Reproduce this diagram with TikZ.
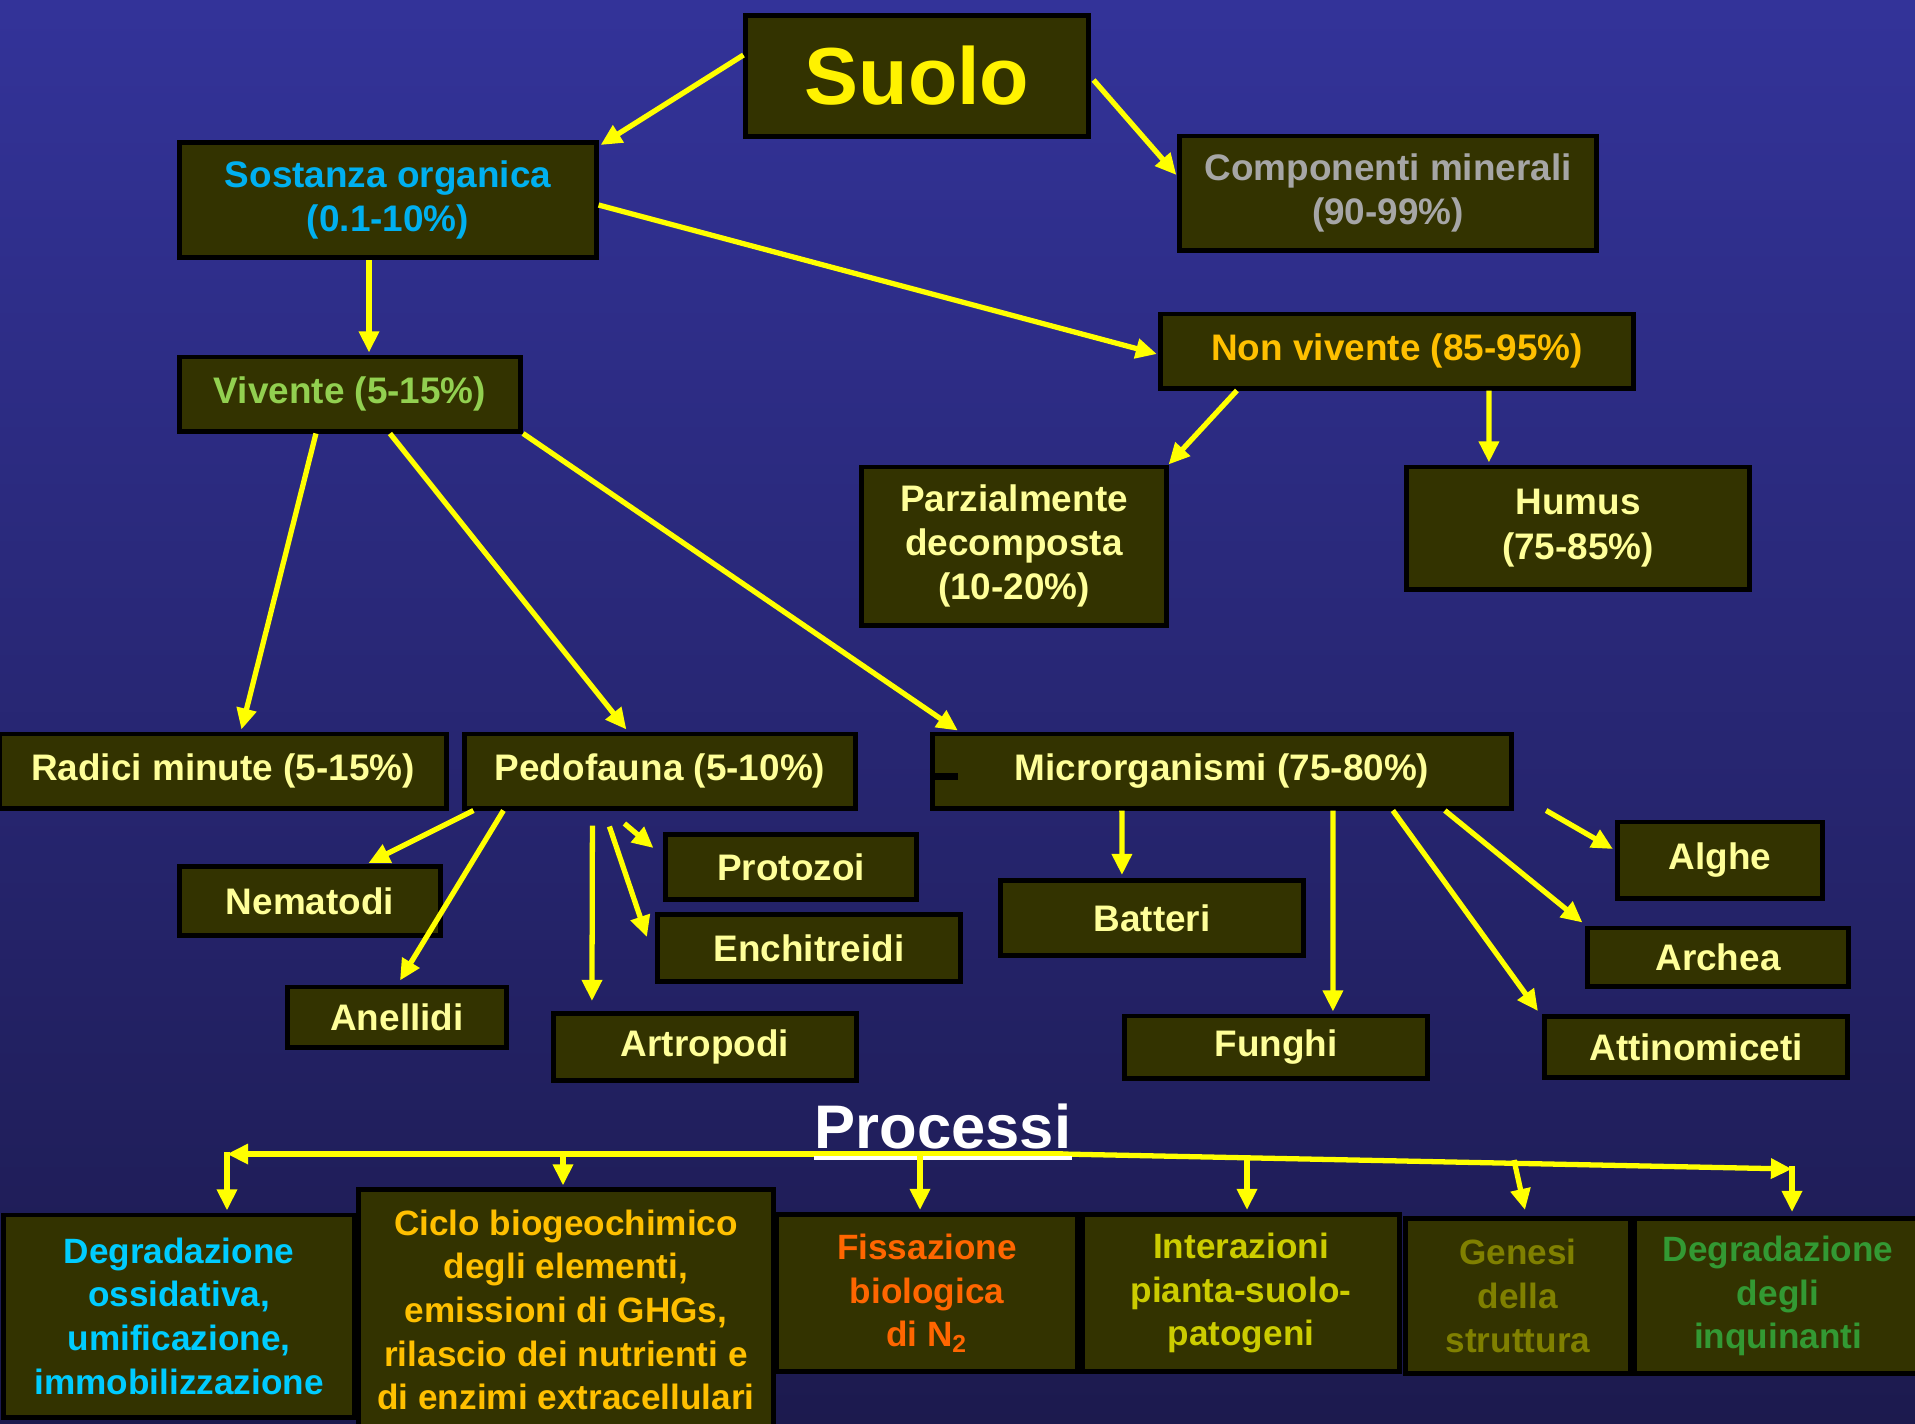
\documentclass[tikz,border=0pt]{standalone}
\usepackage{fontspec}
\setmainfont{Liberation Sans}
\usetikzlibrary{arrows.meta,calc}

\definecolor{bgtop}{RGB}{51,51,153}
\definecolor{bgbottom}{RGB}{28,26,78}
\definecolor{boxfill}{RGB}{51,51,0}
\definecolor{arrowyellow}{RGB}{255,255,0}
\definecolor{paleyellow}{RGB}{255,255,153}
\definecolor{skyblue}{RGB}{0,176,240}
\definecolor{mineralgray}{RGB}{166,166,166}
\definecolor{livegreen}{RGB}{146,208,80}
\definecolor{gold}{RGB}{255,192,0}
\definecolor{cyanblue}{RGB}{0,204,255}
\definecolor{fixorange}{RGB}{255,102,0}
\definecolor{darkyellow}{RGB}{204,204,0}
\definecolor{olive}{RGB}{128,128,0}
\definecolor{pollgreen}{RGB}{51,153,51}

\begin{document}
\begin{tikzpicture}[x=0.01cm, y=-0.01cm,
    box/.style={rectangle, draw=black, line width=1.4pt, fill=boxfill,
                inner sep=0pt, align=center, text=paleyellow,
                font=\fontsize{10.5}{12.6}\selectfont\bfseries},
    lowbox/.style={box, font=\fontsize{10}{12.4}\selectfont\bfseries},
    arr/.style={draw=arrowyellow, line width=1.5pt,
                -{Triangle[length=6pt,width=5.5pt]}}]
    \fill[top color=bgtop, bottom color=bgbottom] (0,0) rectangle (1915,1423);
    \useasboundingbox (0,0) rectangle (1915,1423);

    \node (suolo) [box, minimum width=3.42cm, minimum height=1.21cm,
                   text=yellow, font=\fontsize{23}{27}\selectfont\bfseries]
          at (917,76) {Suolo};
    \node (sost) [box, minimum width=4.16cm, minimum height=1.15cm, text=skyblue]
          at (388,200) {Sostanza organica\\(0.1-10\%)};
    \node (comp) [box, minimum width=4.16cm, minimum height=1.14cm, text=mineralgray]
          at (1388,193) {Componenti minerali\\(90-99\%)};
    \node (viv) [box, minimum width=3.41cm, minimum height=0.74cm, text=livegreen]
          at (350,394) {Vivente (5-15\%)};
    \node (nonviv) [box, minimum width=4.73cm, minimum height=0.74cm, text=gold]
          at (1397,351) {Non vivente (85-95\%)};
    \node (parz) [box, minimum width=3.04cm, minimum height=1.58cm]
          at (1014,546) {Parzialmente\\decomposta\\(10-20\%)};
    \node (humus) [box, minimum width=3.43cm, minimum height=1.22cm]
          at (1578,528) {Humus\\(75-85\%)};

    \node (rad) [box, minimum width=4.46cm, minimum height=0.74cm]
          at (223,771) {Radici minute (5-15\%)};
    \node (ped) [box, minimum width=3.90cm, minimum height=0.74cm]
          at (660,771) {Pedofauna (5-10\%)};
    \node (micro) [box, minimum width=5.79cm, minimum height=0.74cm]
          at (1222,771) {Microrganismi (75-80\%)};
    \draw[black, line width=2pt] ($(micro.west)+(0,5)$) -- ++(28,0);

    \node (nem) [box, minimum width=2.60cm, minimum height=0.69cm]
          at (310,901) {Nematodi};
    \node (anel) [box, minimum width=2.19cm, minimum height=0.60cm]
          at (397,1017) {Anellidi};
    \node (prot) [box, minimum width=2.50cm, minimum height=0.65cm]
          at (791,867) {Protozoi};
    \node (ench) [box, minimum width=3.03cm, minimum height=0.67cm]
          at (809,948) {Enchitreidi};
    \node (artr) [box, minimum width=3.03cm, minimum height=0.67cm]
          at (705,1047) {Artropodi};
    \node (batt) [box, minimum width=3.03cm, minimum height=0.75cm]
          at (1152,918) {Batteri};
    \node (fun) [box, minimum width=3.03cm, minimum height=0.62cm]
          at (1276,1047) {Funghi};
    \node (alghe) [box, minimum width=2.05cm, minimum height=0.76cm]
          at (1720,860) {Alghe};
    \node (arch) [box, minimum width=2.60cm, minimum height=0.58cm]
          at (1718,957) {Archea};
    \node (attin) [box, minimum width=3.03cm, minimum height=0.61cm]
          at (1696,1047) {Attinomiceti};

    \draw[arr] ($(suolo.west)+(0,-21)$) -- ($(sost.north east)+(2,5)$);
    \draw[arr] ($(suolo.east)+(3,4)$) -- ($(comp.west)+(-1,-18)$);
    \draw[arr] ($(sost.south)+(-19,0)$) -- ($(viv.north)+(19,-2)$);
    \draw[arr] ($(sost.east)+(0,5)$) -- ($(nonviv.west)+(-1,3)$);
    \draw[arr] ($(nonviv.south west)+(79,0)$) -- (parz.north east);
    \draw[arr] ($(nonviv.south west)+(331,0)$) -- ($(humus.north west)+(85,-2)$);
    \draw[arr] ($(viv.south west)+(139,0)$) -- ($(rad.north west)+(244,-2)$);
    \draw[arr] ($(viv.south west)+(213,0)$) -- ($(ped.north west)+(164,-2)$);
    \draw[arr] (viv.south east) -- ($(micro.north west)+(28,-1)$);
    \draw[arr] ($(ped.south west)+(11,0)$) -- ($(nem.north west)+(191,-1)$);
    \draw[arr] ($(ped.south west)+(41,0)$) -- ($(anel.north west)+(115,-4)$);
    \draw[arr] ($(ped.south west)+(130,15)$) -- ($(artr.north west)+(41,-10)$);
    \draw[arr] ($(ped.south west)+(147,16)$) -- ($(ench.west)+(-8,-11)$);
    \draw[arr] ($(ped.south west)+(162,13)$) -- ($(prot.west)+(-10,-19)$);
    \draw[arr] ($(micro.south west)+(192,0)$) -- ($(batt.north west)+(124,-3)$);
    \draw[arr] ($(micro.south west)+(403,0)$) -- ($(fun.north west)+(211,-2)$);
    \draw[arr] ($(micro.south west)+(463,0)$) -- ($(attin.north west)+(-4,-3)$);
    \draw[arr] ($(micro.south west)+(515,0)$) -- ($(arch.north west)+(-3,-3)$);
    \draw[arr] ($(micro.south east)+(32,0)$) -- ($(alghe.west)+(-2,-11)$);

    \node (deg1) [lowbox, minimum width=3.50cm, minimum height=2.02cm, text=cyanblue]
          at (179,1316) {Degradazione\\ossidativa,\\umificazione,\\immobilizzazione};
    \node (ciclo) [lowbox, minimum width=4.14cm, minimum height=2.40cm, text=gold]
          at (566,1310) {Ciclo biogeochimico\\degli elementi,\\emissioni di GHGs,\\rilascio dei nutrienti e\\di enzimi extracellulari};
    \node (fiss) [lowbox, minimum width=3.00cm, minimum height=1.57cm, text=fixorange]
          at (927,1293) {Fissazione\\biologica\\di N\textsubscript{2}};
    \node (inter) [lowbox, minimum width=3.17cm, minimum height=1.57cm, text=darkyellow]
          at (1241,1293) {Interazioni\\pianta-suolo-\\patogeni};
    \node (genesi) [lowbox, minimum width=2.24cm, minimum height=1.55cm, text=olive]
          at (1518,1296) {Genesi\\della\\struttura};
    \node (deg2) [lowbox, minimum width=2.86cm, minimum height=1.55cm, text=pollgreen]
          at (1778,1296) {Degradazione\\degli\\inquinanti};

    \coordinate (pleft) at (227,1154);
    \coordinate (pmid) at (1063,1154);
    \coordinate (pright) at (1792,1169);
    \draw[arr] (pmid) -- (pleft);
    \draw[arr] (pmid) -- (pright);
    \node (proc) [anchor=base, inner sep=0pt, text=white,
                  font=\fontsize{17.5}{21}\selectfont\bfseries]
          at (943,1148) {Processi};
    \draw[white, line width=1.4pt] ($(proc.base west)+(0,10)$) -- ($(proc.base east)+(0,10)$);

    \draw[arr] ($(deg1.north)+(48,-61)$) -- ($(deg1.north)+(48,-2)$);
    \draw[arr] ($(ciclo.north)+(-3,-36)$) -- ($(ciclo.north)+(-3,-2)$);
    \draw[arr] ($(fiss.north)+(-7,-61)$) -- ($(fiss.north)+(-7,-2)$);
    \draw[arr] ($(inter.north)+(6,-57)$) -- ($(inter.north)+(6,-2)$);
    \draw[arr] ($(genesi.north)+(-4,-56)$) -- ($(genesi.north)+(7,-6)$);
    \draw[arr] ($(deg2.north)+(14,-50)$) -- ($(deg2.north)+(14,-4)$);
  \end{tikzpicture}
\end{document}
